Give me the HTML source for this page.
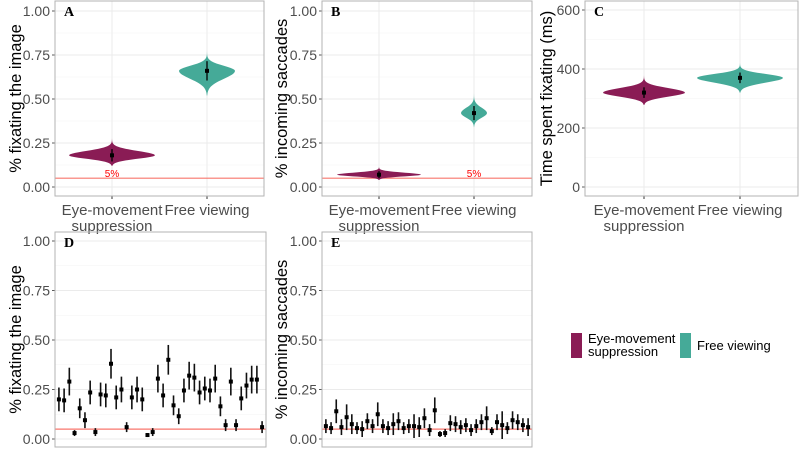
<!DOCTYPE html>
<html><head><meta charset="utf-8"><style>
body{margin:0;background:#fff;width:800px;height:451px;overflow:hidden}
svg text{font-family:"Liberation Sans",sans-serif}
svg text.serif{font-family:"Liberation Serif",serif}
</style></head><body>
<svg id="fig" width="800" height="451" viewBox="0 0 800 451"></svg>
<script>
const catsTop=["Eye-movement suppression","Free viewing"];
const violinA=[{c:0.18,lo:0.12,hi:0.275,hw:43},{c:0.66,lo:0.52,hi:0.77,hw:28}];
const violinB=[{c:0.07,lo:0.04,hi:0.115,hw:42},{c:0.42,lo:0.34,hi:0.535,hw:13}];
const violinC=[{c:320,lo:278,hi:378,hw:41},{c:370,lo:320,hi:420,hw:43}];
const meanErrA=[0.035,0.055];
const meanErrB=[0.02,0.04];
const meanErrC=[18,18];
const dVals=[0.20,0.195,0.29,0.03,0.155,0.095,0.235,0.035,0.225,0.22,0.38,0.21,0.25,0.06,0.21,0.25,0.20,0.02,0.035,0.305,0.22,0.40,0.17,0.115,0.245,0.32,0.31,0.235,0.255,0.245,0.305,0.165,0.07,0.29,0.07,0.205,0.27,0.30,0.30,0.06];
const dErr=[0.06,0.06,0.07,0.015,0.05,0.04,0.06,0.02,0.06,0.06,0.075,0.06,0.065,0.025,0.06,0.065,0.06,0.01,0.02,0.07,0.06,0.075,0.05,0.04,0.06,0.07,0.07,0.06,0.06,0.06,0.07,0.05,0.03,0.07,0.03,0.06,0.065,0.07,0.07,0.03];
const eVals=[0.065,0.055,0.14,0.06,0.11,0.075,0.055,0.05,0.09,0.065,0.125,0.065,0.055,0.075,0.09,0.055,0.065,0.065,0.06,0.105,0.045,0.145,0.025,0.03,0.08,0.075,0.06,0.07,0.045,0.065,0.085,0.105,0.04,0.085,0.07,0.055,0.095,0.085,0.07,0.06];
const eErr=[0.035,0.03,0.06,0.04,0.065,0.05,0.03,0.04,0.04,0.035,0.06,0.035,0.035,0.055,0.045,0.03,0.035,0.06,0.05,0.05,0.03,0.065,0.015,0.02,0.04,0.04,0.035,0.035,0.03,0.035,0.04,0.06,0.02,0.04,0.07,0.03,0.045,0.04,0.035,0.045];
const ticks01=[0,0.25,0.5,0.75,1];
const ticksC=[0,200,400,600];
const COL=["#8a1c55","#45aa98"];
const NS="http://www.w3.org/2000/svg";
const svg=document.getElementById('fig');
function el(tag,attrs,parent,txt){const e=document.createElementNS(NS,tag);for(const k in attrs)e.setAttribute(k,attrs[k]);if(txt!==undefined)e.textContent=txt;(parent||svg).appendChild(e);return e;}
function panel(p){
  const g=el('g',{});
  
  
  const y=v=>p.y0+(v-p.min)/(p.max-p.min)*(p.y1-p.y0);
  for(let i=0;i<p.ticks.length-1;i++){const m=(p.ticks[i]+p.ticks[i+1])/2;el('line',{x1:p.l,x2:p.r,y1:y(m),y2:y(m),stroke:'#f3f3f3','stroke-width':0.6},g);}
  p.ticks.forEach((t,i)=>{
    const ln=el('line',{x1:p.l,x2:p.r,y1:y(t),y2:y(t),stroke:'#ebebeb','stroke-width':1},g);
    
    
    el('line',{x1:p.l-3,x2:p.l,y1:y(t),y2:y(t),stroke:'#333','stroke-width':0.8},g);
    const tx=el('text',{x:p.l-5,y:y(t)+5,'text-anchor':'end','font-size':14,fill:'#4d4d4d'},g,p.tickLabels[i]);
    
    
  });
  if(p.cats){p.cats.forEach((c,i)=>{el('line',{x1:p.cx[i],x2:p.cx[i],y1:p.top,y2:p.bot,stroke:'#ebebeb'},g);});}
  const t=el('text',{transform:`translate(${p.titleX},${(p.top+p.bot)/2}) rotate(-90)`,'text-anchor':'middle','font-size':16.5,fill:'#000'},g,p.ytitle);
  
  
  const lb=el('text',{x:p.l+9,y:p.top+15,'font-size':14,'font-weight':'bold',class:'serif',fill:'#000'},g,p.letter);
  
  
  return {g,y};
}
function frame(p,g){el('rect',{x:p.l,y:p.top,width:p.r-p.l,height:p.bot-p.top,fill:'none',stroke:'#b3b3b3','stroke-width':1},g);}
function violinPanel(p,vd,err,showRed){
  const {g,y}=panel(p);
  if(showRed!==undefined){
    const rl=el('line',{x1:p.l,x2:p.r,y1:y(0.05),y2:y(0.05),stroke:'#f8766d','stroke-width':1.2},g);
    
    
  }
  vd.forEach((v,i)=>{
    const cx=p.cx[i];const n=40;let L=[],R=[];
    for(let k=0;k<=n;k++){const val=v.lo+(v.hi-v.lo)*k/n;const s=val<v.c?(v.c-v.lo)/2.2:(v.hi-v.c)/2.4;const w=v.hw*Math.exp(-Math.pow((val-v.c)/s,2)*(val<v.c?1:1.3));R.push([cx+w,y(val)]);L.unshift([cx-w,y(val)]);}
    const pts=R.concat(L).map(q=>q.join(',')).join(' ');
    const vp=el('polygon',{points:pts,fill:COL[i]},g);
    
    
    el('line',{x1:cx,x2:cx,y1:y(v.c-err[i]),y2:y(v.c+err[i]),stroke:'#000','stroke-width':1.3},g);
    el('rect',{x:cx-2,y:y(v.c)-2,width:4,height:4,fill:'#000'},g);
    if(i===0){
      const a=el('text',{x:cx,y:p.bot+19,'text-anchor':'middle','font-size':15,fill:'#4d4d4d'},g,'Eye-movement');
      
      el('text',{x:cx,y:p.bot+35,'text-anchor':'middle','font-size':15,fill:'#4d4d4d'},g,'suppression');
    } else {
      const a=el('text',{x:cx,y:p.bot+19,'text-anchor':'middle','font-size':15,fill:'#4d4d4d'},g,p.cats[i]);
      
    }
    el('line',{x1:cx,x2:cx,y1:p.bot,y2:p.bot+3,stroke:'#333'},g);
  });
  if(showRed!==undefined){const ft=el('text',{x:p.cx[showRed],y:y(0.05)-1,'text-anchor':'middle','font-size':10,fill:'#ff0000'},g,'5%');}
  frame(p,g);
}
function dotPanel(p,vals,errs){
  const {g,y}=panel(p);
  const rl=el('line',{x1:p.l,x2:p.r,y1:y(0.05),y2:y(0.05),stroke:'#f8766d','stroke-width':1.2},g);
  
  
  const n=vals.length,step=(p.r-p.l)/(n+0.5);
  vals.forEach((v,i)=>{
    const x=p.l+step*(i+0.75);
    const e=el('line',{x1:x,x2:x,y1:y(Math.max(0,v-errs[i])),y2:y(v+errs[i]),stroke:'#111','stroke-width':1.6},g);
    
    
    const d=el('rect',{x:x-2,y:y(v)-2,width:4,height:4,fill:'#000'},g);
    
    
  });
  frame(p,g);
}
const tl01=ticks01.map(t=>t.toFixed(2));
violinPanel({name:'panel-a',l:55,r:264,top:1,bot:196,y0:187,y1:11,min:0,max:1,ticks:ticks01,tickLabels:tl01,cats:catsTop,cx:[112,207],titleX:21,ytitle:'% fixating the image',letter:'A'},violinA,meanErrA,0);
violinPanel({name:'panel-b',l:322,r:532,top:1,bot:196,y0:187,y1:11,min:0,max:1,ticks:ticks01,tickLabels:tl01,cats:catsTop,cx:[379,474],titleX:287,ytitle:'% incoming saccades',letter:'B'},violinB,meanErrB,1);
violinPanel({name:'panel-c',l:585,r:798,top:1,bot:196,y0:187,y1:10,min:0,max:600,ticks:ticksC,tickLabels:ticksC.map(String),cats:catsTop,cx:[644,740],titleX:552,ytitle:'Time spent fixating (ms)',letter:'C'},violinC,meanErrC);
dotPanel({name:'panel-d',l:55,r:266,top:232,bot:447,y0:439,y1:241,min:0,max:1,ticks:ticks01,tickLabels:tl01,titleX:21,ytitle:'% fixating the image',letter:'D'},dVals,dErr);
dotPanel({name:'panel-e',l:322,r:532,top:232,bot:447,y0:439,y1:241,min:0,max:1,ticks:ticks01,tickLabels:tl01,titleX:287,ytitle:'% incoming saccades',letter:'E'},eVals,eErr);
const lg=el('g',{});


const k1=el('rect',{x:571,y:333,width:11,height:25,fill:COL[0]},lg);


el('text',{x:588,y:343,'font-size':13,fill:'#000'},lg,'Eye-movement');
el('text',{x:588,y:356,'font-size':13,fill:'#000'},lg,'suppression');
const k2=el('rect',{x:680,y:333,width:11,height:25,fill:COL[1]},lg);


el('text',{x:697,y:350,'font-size':13,fill:'#000'},lg,'Free viewing');
</script>
</body></html>
